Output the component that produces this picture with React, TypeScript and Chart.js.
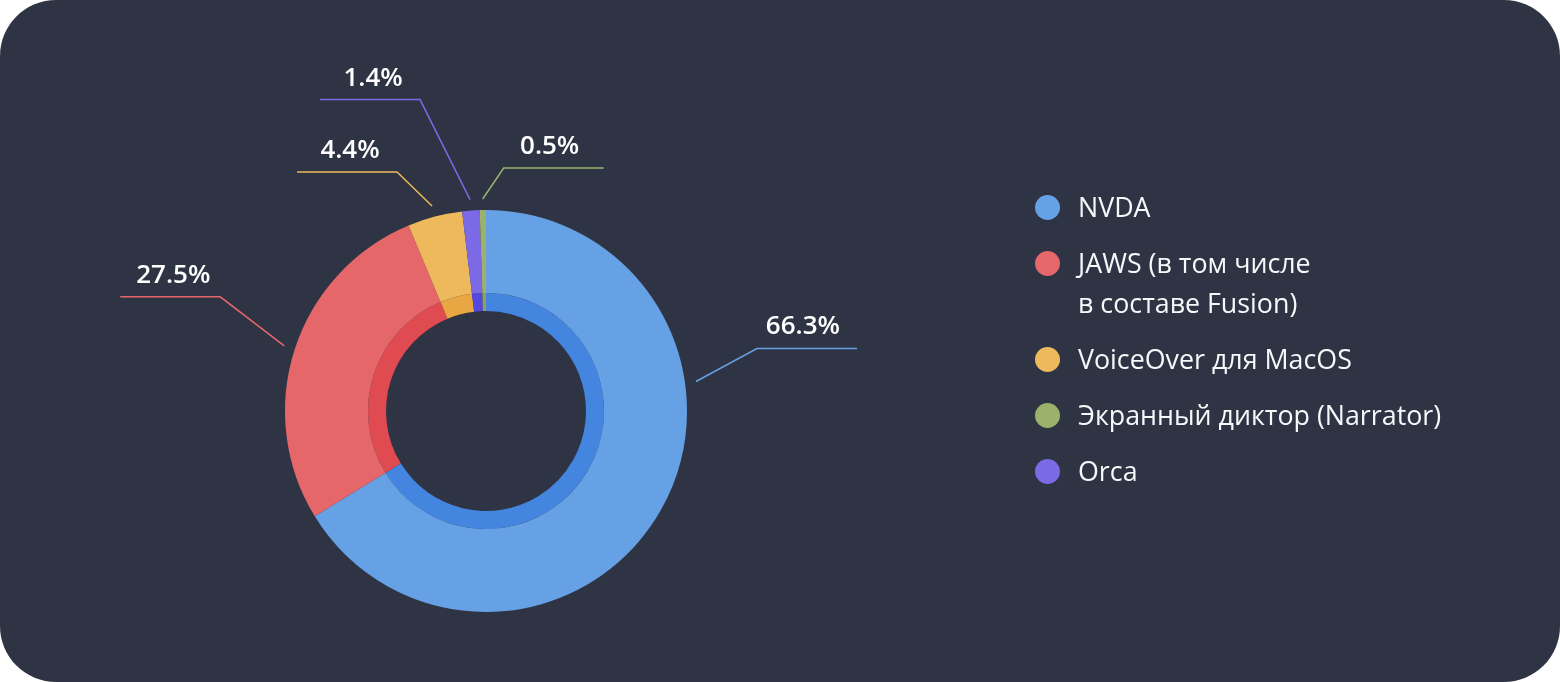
import React, { useEffect, useRef } from "react";
import { Chart, registerables } from "chart.js";

Chart.register(...registerables);

// Slices in clockwise drawing order, starting at 12 o'clock
const categories = [
  "NVDA",
  "JAWS (в том числе\nв составе Fusion)",
  "VoiceOver для MacOS",
  "Orca",
  "Экранный диктор (Narrator)",
];
const shares = [66.3, 27.5, 4.4, 1.4, 0.5];
const outerColors = ["#66a1e5", "#e5676a", "#edb95c", "#7b69e6", "#9cb16b"];
const innerColors = ["#4485e0", "#e04a51", "#e9a743", "#5447e2", "#8ea25a"];
const legendOrder = [0, 1, 2, 4, 3];
const labelTexts = shares.map((v) => v.toFixed(1) + "%");

// leader line layout (elbow offset from anchor, horizontal run)
const leaderLayout = [
  { dx: 61, dy: -33, run: 100 },
  { dx: -64, dy: -49, run: -100 },
  { dx: -35, dy: -34, run: -100 },
  { dx: -50, dy: -100, run: -100 },
  { dx: 21, dy: -31, run: 100 },
];

const FONT = '"Open Sans", "Noto Sans", sans-serif';

const leaderLabels = {
  id: "leaderLabels",
  afterDatasetsDraw(chart: any) {
    const meta = chart.getDatasetMeta(0);
    const ctx = chart.ctx as CanvasRenderingContext2D;
    const maxA = (-8 * Math.PI) / 180;
    meta.data.forEach((arc: any, i: number) => {
      const p = arc.getProps(["x", "y", "startAngle", "endAngle", "outerRadius"], true);
      let a = (p.startAngle + p.endAngle) / 2;
      if (a > maxA && a < Math.PI / 2) a = maxA;
      const r0 = p.outerRadius + 11;
      const sx = p.x + r0 * Math.cos(a);
      const sy = p.y + r0 * Math.sin(a);
      const L = leaderLayout[i];
      const ex = sx + L.dx;
      const ey = sy + L.dy;
      const hx = ex + L.run;
      ctx.save();
      ctx.strokeStyle = outerColors[i];
      ctx.lineWidth = 1.5;
      ctx.beginPath();
      ctx.moveTo(sx, sy);
      ctx.lineTo(ex, ey);
      ctx.lineTo(hx, ey);
      ctx.stroke();
      ctx.fillStyle = "#ffffff";
      ctx.font = `600 26px ${FONT}`;
      ctx.textAlign = "center";
      ctx.textBaseline = "alphabetic";
      const shift = L.run > 0 ? -4 : 3;
      ctx.fillText(labelTexts[i], (ex + hx) / 2 + shift, ey - 14);
      ctx.restore();
    });
  },
};

export default function App() {
  const canvasRef = useRef<HTMLCanvasElement | null>(null);

  useEffect(() => {
    if (!canvasRef.current) return;
    const chart = new Chart(canvasRef.current, {
      type: "doughnut",
      data: {
        labels: categories,
        datasets: [
          {
            data: shares,
            backgroundColor: outerColors,
            borderWidth: 0,
            weight: 83,
          },
          {
            data: shares,
            backgroundColor: innerColors,
            borderWidth: 0,
            weight: 18,
          },
        ],
      },
      options: {
        responsive: true,
        maintainAspectRatio: false,
        animation: false,
        cutout: 100,
        layout: { padding: { left: 285, top: 210, right: 873, bottom: 70 } },
        plugins: {
          legend: { display: false },
          tooltip: { enabled: false },
        },
      } as any,
      plugins: [leaderLabels],
    });
    return () => chart.destroy();
  }, []);

  return (
    <div
      style={{
        position: "fixed",
        left: 0,
        top: 0,
        width: 1560,
        height: 682,
        background: "#2f3445",
        borderRadius: 56,
        overflow: "hidden",
      }}
    >
      <div style={{ position: "absolute", left: 0, top: 0, width: 1560, height: 682 }}>
        <canvas ref={canvasRef} />
      </div>
      <div
        style={{
          position: "absolute",
          left: 1035,
          top: 187,
          fontFamily: FONT,
          fontSize: 26.8,
          lineHeight: "40px",
          color: "#f7f8fa",
        }}
      >
        {legendOrder.map((idx) => (
          <div
            key={idx}
            style={{ display: "flex", alignItems: "flex-start", marginBottom: 16 }}
          >
            <div
              style={{
                width: 25,
                height: 25,
                borderRadius: "50%",
                background: outerColors[idx],
                marginTop: 8,
                marginRight: 18,
                flex: "0 0 auto",
              }}
            />
            <div style={{ whiteSpace: "pre-line" }}>{categories[idx]}</div>
          </div>
        ))}
      </div>
    </div>
  );
}
